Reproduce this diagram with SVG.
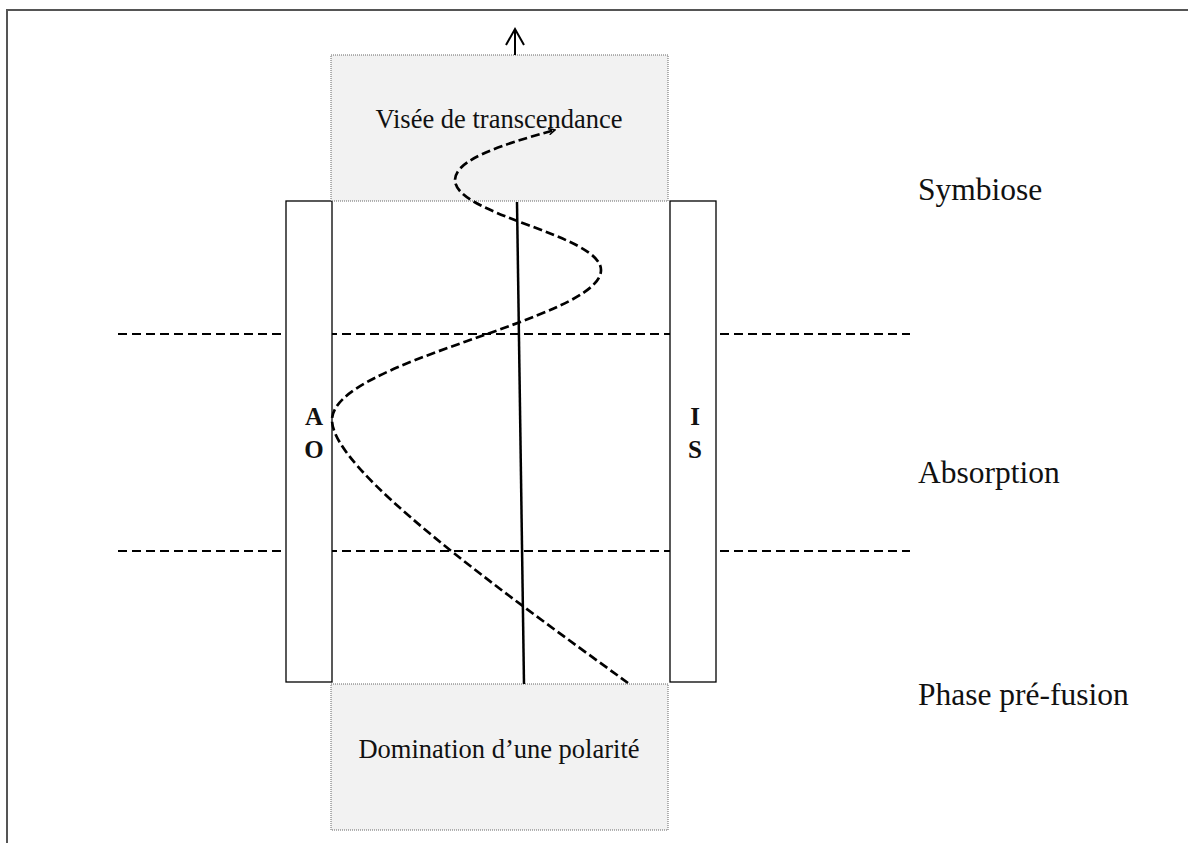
<svg xmlns="http://www.w3.org/2000/svg" width="1188" height="843" viewBox="0 0 1188 843">
<style>
.frame{fill:none;stroke:#555;stroke-width:2}
.hdash{stroke:#000;stroke-width:2;stroke-dasharray:9,5;fill:none}
.bar{fill:#fff;stroke:#000;stroke-width:1.3}
.box{fill:#f2f2f2;stroke:#666;stroke-width:1;stroke-dasharray:1,1}
.boxtxt{font-family:"Liberation Serif","Times New Roman",serif;font-size:26.5px;fill:#111;text-anchor:middle}
.side{font-family:"Liberation Serif","Times New Roman",serif;font-size:31.5px;fill:#111}
.letter{font-family:"Liberation Serif","Times New Roman",serif;font-size:25px;font-weight:bold;fill:#111;text-anchor:middle}
.conn{fill:none;stroke:#000}
</style>
<defs>
<marker id="open" viewBox="0 0 10 10" refX="9" refY="5" markerWidth="8" markerHeight="8" orient="auto" markerUnits="userSpaceOnUse">
<path d="M1,1 L9,5 L1,9" fill="none" stroke="#000" stroke-width="2"/>
</marker>
</defs>
<rect x="0" y="0" width="1188" height="843" fill="#fff"/>
<path class="frame" d="M7,843 L7,10 L1188,10"/>
<g id="levels">
<line class="hdash" x1="118" y1="334" x2="910" y2="334"/>
<line class="hdash" x1="118" y1="551" x2="910" y2="551"/>
</g>
<g id="bar-left">
<rect class="bar" x="286" y="201" width="46" height="481"/>
<text class="letter" x="314" y="425">A</text>
<text class="letter" x="314" y="458">O</text>
</g>
<g id="bar-right">
<rect class="bar" x="670" y="201" width="46" height="481"/>
<text class="letter" x="695" y="425">I</text>
<text class="letter" x="695" y="458">S</text>
</g>
<g id="box-top">
<rect class="box" x="331" y="55" width="337" height="146"/>
<text class="boxtxt" x="499" y="128">Visée de transcendance</text>
</g>
<g id="box-bottom">
<rect class="box" x="331" y="684" width="337" height="146"/>
<text class="boxtxt" x="499" y="758">Domination d’une polarité</text>
</g>
<g id="labels">
<text class="side" x="918" y="200">Symbiose</text>
<text class="side" x="918" y="483">Absorption</text>
<text class="side" x="918" y="705">Phase pré-fusion</text>
</g>
<g id="connectors">
<line class="conn" x1="517" y1="202" x2="524" y2="684" stroke-width="2.5"/>
<line class="conn" x1="515" y1="55" x2="515" y2="30" stroke-width="2"/>
<path class="conn" d="M506,45 L515,29 L524,45" stroke-width="2"/>
<path class="conn" d="M628,683 C500,590 332,470 332,420 C332,360 601,320 601,270 C601,235 455,215 455,180 C455,160 500,145 555,130" stroke-width="2.7" stroke-dasharray="9,4" marker-end="url(#open)"/>
</g>
</svg>
